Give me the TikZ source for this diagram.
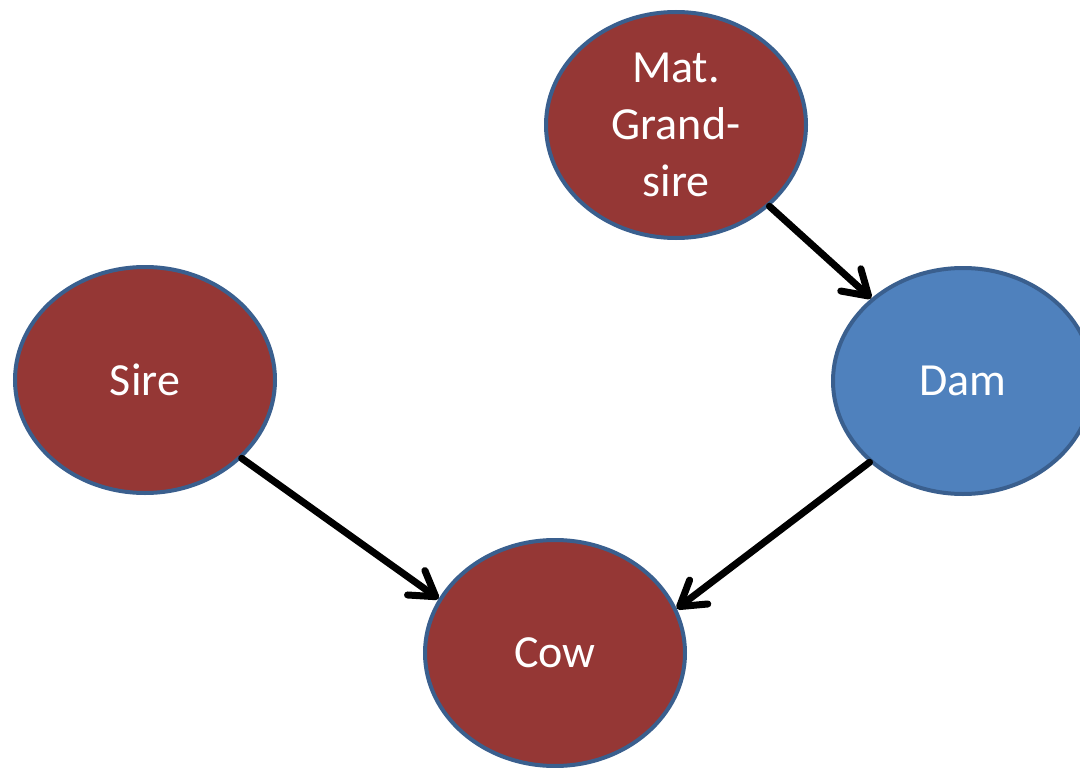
\documentclass[tikz,border=0pt]{standalone}
\usepackage{fontspec}
\setmainfont{Carlito}
\usetikzlibrary{shapes.geometric,arrows.meta}
\definecolor{nodered}{HTML}{953735}
\definecolor{nodeblue}{HTML}{4F81BD}
\definecolor{nodeedge}{HTML}{3A5F8E}
\tikzset{
  animal/.style={ellipse, draw=nodeedge, line width=4pt, inner sep=0pt,
    minimum width=260pt, minimum height=226pt, text=white, align=center,
    font=\fontsize{46}{57}\selectfont},
  redanimal/.style={animal, fill=nodered},
  blueanimal/.style={animal, fill=nodeblue},
  link/.style={line width=7pt, line cap=round,
    -{Straight Barb[length=24pt, width=30pt, line width=7pt, round]}}
}
\begin{document}
\begin{tikzpicture}[x=1pt,y=-1pt]
\useasboundingbox (0,0) rectangle (1080,768);
\clip (0,0) rectangle (1080,768);
\node[redanimal] (mat) at (676,125) {Mat.\\Grand-\\sire};
\node[redanimal] (sire) at (145,380) {Sire};
\node[blueanimal] (dam) at (963,381) {Dam};
\node[redanimal] (cow) at (555,653) {Cow};
\draw[link] (mat.-41.6) -- (dam.138);
\draw[link] (sire.-39) -- (cow.155);
\draw[link] (dam.221) -- (cow.20);
\end{tikzpicture}
\end{document}
